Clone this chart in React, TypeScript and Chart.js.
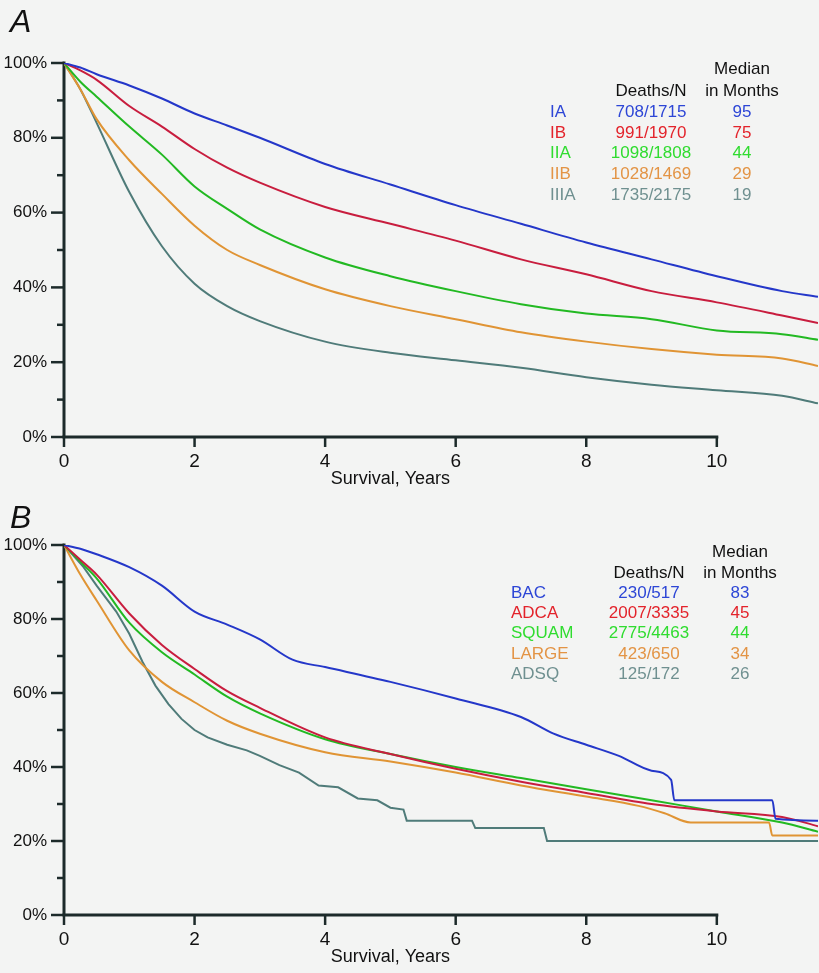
import React, { useEffect, useRef } from 'react';
import { Chart, registerables } from 'chart.js';

Chart.register(...registerables);

// ---------- data ----------
const xTickValues = [0, 2, 4, 6, 8, 10];
const yTickValues = [0, 10, 20, 30, 40, 50, 60, 70, 80, 90, 100];
const xTitle = 'Survival, Years';
const headerDeaths = 'Deaths/N';
const headerMedian1 = 'Median';
const headerMedian2 = 'in Months';

// Panel A: stage
const timesA = [0, 0.25, 0.5, 1, 1.5, 2, 2.5, 3, 4, 5, 6, 7, 8, 9, 10, 11, 11.55];
const survIA = [100, 98.8, 97, 94, 90.5, 86.5, 83.3, 80, 73, 67.5, 62, 57, 52, 47.5, 43, 39, 37.5];
const survIB = [100, 98, 95.5, 88.5, 83, 77, 72, 68, 61.5, 57, 52.5, 47.5, 43.5, 39, 36, 32.5, 30.5];
const survIIA = [100, 95, 91, 83, 75.5, 67, 61, 55.5, 48, 43, 39, 35.5, 33, 31.5, 28.5, 27.5, 26];
const survIIB = [100, 93, 85, 74, 65, 56.5, 50, 46, 39.5, 35, 31.5, 28, 25.5, 23.5, 22, 21, 19];
const survIIIA = [100, 93, 84, 65.5, 51, 41, 35, 31, 25.5, 22.5, 20.5, 18.5, 16, 14, 12.5, 11, 9];
const namesA = ['IA', 'IB', 'IIA', 'IIB', 'IIIA'];
const deathsA = ['708/1715', '991/1970', '1098/1808', '1028/1469', '1735/2175'];
const mediansA = ['95', '75', '44', '29', '19'];

// Panel B: histology
const timesB = [0, 0.25, 0.5, 1, 1.5, 2, 2.5, 3, 4, 5, 6, 7, 8, 9, 10, 11, 11.55];
const survADCA = [100, 96, 92, 81.5, 73, 66.5, 60.5, 56, 48, 43.5, 39.5, 36, 33, 30, 28, 26.5, 24];
const survSQUAM = [100, 95.5, 91, 79, 71, 65, 59, 54.5, 47.5, 43.5, 40, 37, 34, 31, 28, 25, 22.5];
const timesBAC = [0, 0.25, 0.5, 1, 1.5, 2, 2.5, 3, 3.5, 4, 5, 6, 7, 7.5, 8, 8.5, 9, 9.3, 9.35, 10.85, 10.9, 11.55];
const survBAC = [100, 99, 97.5, 94, 89, 82, 78.5, 74.5, 69, 67, 63, 58.5, 53.5, 49, 46, 43, 39, 36.5, 31, 31, 26, 25.5];
const timesLARGE = [0, 0.25, 0.5, 1, 1.5, 2, 2.5, 3, 4, 5, 6, 7, 8, 8.8, 9.2, 9.6, 10.3, 10.8, 10.85, 11.55];
const survLARGE = [100, 92, 85, 71.5, 63, 57.5, 52.5, 49, 44, 41.5, 38.5, 35, 32, 29.5, 27.5, 25, 25, 25, 21.5, 21.5];
const timesADSQ = [0, 0.3, 0.5, 0.8, 1, 1.2, 1.4, 1.6, 1.8, 2, 2.2, 2.5, 2.8, 3, 3.3, 3.6, 3.9, 4.2, 4.5, 4.8, 5.0, 5.2, 5.25, 6.25, 6.3, 7.35, 7.4, 11.55];
const survADSQ = [100, 94, 89, 82, 76, 68.5, 62, 57, 53, 50, 48, 46, 44.5, 43, 40.5, 38.5, 35, 34.5, 31.5, 31, 29, 28.5, 25.5, 25.5, 23.5, 23.5, 20, 20];
const namesB = ['BAC', 'ADCA', 'SQUAM', 'LARGE', 'ADSQ'];
const deathsB = ['230/517', '2007/3335', '2775/4463', '423/650', '125/172'];
const mediansB = ['83', '45', '44', '34', '26'];

// ---------- styles ----------
const curveColors = ['#2437c9', '#c81d3e', '#22b922', '#e09434', '#4f7b79'];
const textColors = ['#2d46d6', '#e3232b', '#2fdc2f', '#e39445', '#6f9090'];
const AXIS_COLOR = '#1c2a2a';
const BG = '#f3f4f3';
const FONT = '"Liberation Sans", Arial, sans-serif';
const NARROW = '"Liberation Sans Narrow", "Arial Narrow", "Liberation Sans", sans-serif';

const pts = (ts: number[], vs: number[]) => ts.map((t, i) => ({ x: t, y: vs[i] }));

type Panel = {
  key: string;
  letter: string;
  height: number;
  top: number;
  padTop: number;
  xAxisH: number;
  letterY: number;
  series: { data: { x: number; y: number }[]; linear?: boolean }[];
  names: string[];
  deaths: string[];
  medians: string[];
  legend: { labelX: number; deathsX: number; medX: number; h1Y: number; h2Y: number; rowY: number; rowGap: number };
};

const panels: Panel[] = [
  {
    key: 'A',
    letter: 'A',
    height: 490,
    top: 0,
    padTop: 63,
    xAxisH: 53,
    letterY: 23,
    series: [
      { data: pts(timesA, survIA) },
      { data: pts(timesA, survIB) },
      { data: pts(timesA, survIIA) },
      { data: pts(timesA, survIIB) },
      { data: pts(timesA, survIIIA) },
    ],
    names: namesA,
    deaths: deathsA,
    medians: mediansA,
    legend: { labelX: 550, deathsX: 651, medX: 742, h1Y: 69, h2Y: 91, rowY: 112.5, rowGap: 20.6 },
  },
  {
    key: 'B',
    letter: 'B',
    height: 483,
    top: 490,
    padTop: 55,
    xAxisH: 58,
    letterY: 29,
    series: [
      { data: pts(timesBAC, survBAC) },
      { data: pts(timesB, survADCA) },
      { data: pts(timesB, survSQUAM) },
      { data: pts(timesLARGE, survLARGE) },
      { data: pts(timesADSQ, survADSQ), linear: true },
    ],
    names: namesB,
    deaths: deathsB,
    medians: mediansB,
    legend: { labelX: 511, deathsX: 649, medX: 740, h1Y: 62, h2Y: 83, rowY: 103, rowGap: 20.4 },
  },
];

function makePlugin(p: Panel) {
  return {
    id: 'decor' + p.key,
    beforeDatasetsDraw(chart: any) {
      const { ctx } = chart;
      const xs = chart.scales.x;
      const ys = chart.scales.y;
      const x0 = xs.getPixelForValue(0);
      const x10 = xs.getPixelForValue(xTickValues[xTickValues.length - 1]);
      const y0 = ys.getPixelForValue(0);
      const y100 = ys.getPixelForValue(100);
      ctx.save();
      ctx.strokeStyle = AXIS_COLOR;
      ctx.lineCap = 'butt';
      ctx.lineWidth = 2.5;
      yTickValues.forEach((v) => {
        const y = ys.getPixelForValue(v);
        const len = v % 20 === 0 ? 13 : 7;
        ctx.beginPath();
        ctx.moveTo(x0 - len, y);
        ctx.lineTo(x0, y);
        ctx.stroke();
      });
      xTickValues.forEach((v) => {
        const x = xs.getPixelForValue(v);
        ctx.beginPath();
        ctx.moveTo(x, y0);
        ctx.lineTo(x, y0 + 10);
        ctx.stroke();
      });
      ctx.lineWidth = 3;
      ctx.beginPath();
      ctx.moveTo(x0, y100 - 1.5);
      ctx.lineTo(x0, y0);
      ctx.stroke();
      ctx.beginPath();
      ctx.moveTo(x0 - 1.5, y0);
      ctx.lineTo(x10 + 1.5, y0);
      ctx.stroke();
      ctx.restore();
    },
    afterDraw(chart: any) {
      const { ctx } = chart;
      const xs = chart.scales.x;
      const ys = chart.scales.y;
      const x0 = xs.getPixelForValue(0);
      const x10 = xs.getPixelForValue(xTickValues[xTickValues.length - 1]);
      const y0 = ys.getPixelForValue(0);
      ctx.save();
      ctx.fillStyle = '#111';
      ctx.font = `18px ${NARROW}`;
      ctx.textAlign = 'center';
      ctx.textBaseline = 'middle';
      ctx.fillText(xTitle, (x0 + x10) / 2, y0 + 42);
      ctx.font = `italic 32px ${FONT}`;
      ctx.textAlign = 'left';
      ctx.fillText(p.letter, 10, p.letterY);
      const L = p.legend;
      ctx.font = `17px ${FONT}`;
      ctx.fillStyle = '#111';
      ctx.textAlign = 'center';
      ctx.fillText(headerMedian1, L.medX, L.h1Y);
      ctx.fillText(headerDeaths, L.deathsX, L.h2Y);
      ctx.fillText(headerMedian2, L.medX, L.h2Y);
      p.names.forEach((n, i) => {
        const y = L.rowY + i * L.rowGap;
        ctx.fillStyle = textColors[i];
        ctx.textAlign = 'left';
        ctx.fillText(n, L.labelX, y);
        ctx.textAlign = 'center';
        ctx.fillText(p.deaths[i], L.deathsX, y);
        ctx.fillText(p.medians[i], L.medX, y);
      });
      ctx.restore();
    },
  };
}

function PanelChart({ p }: { p: Panel }) {
  const ref = useRef<HTMLCanvasElement | null>(null);
  useEffect(() => {
    if (!ref.current) return;
    const chart = new Chart(ref.current, {
      type: 'line',
      data: {
        datasets: p.series.map((s, i) => ({
          label: p.names[i],
          data: s.data,
          borderColor: curveColors[i],
          backgroundColor: curveColors[i],
          borderWidth: 2,
          pointRadius: 0,
          fill: false,
          tension: 0,
          cubicInterpolationMode: s.linear ? 'default' : 'monotone',
        })) as any,
      },
      options: {
        animation: false,
        responsive: false,
        maintainAspectRatio: false,
        devicePixelRatio: 1,
        layout: { padding: { top: p.padTop, right: 1, left: 0, bottom: 0 } },
        plugins: { legend: { display: false }, tooltip: { enabled: false }, title: { display: false } },
        scales: {
          x: {
            type: 'linear',
            min: 0,
            max: 11.55,
            border: { display: false },
            grid: { display: false, drawTicks: false },
            afterBuildTicks: (s: any) => {
              s.ticks = xTickValues.map((v) => ({ value: v }));
            },
            afterFit: (s: any) => {
              s.height = p.xAxisH;
            },
            ticks: {
              autoSkip: false,
              maxRotation: 0,
              padding: 13,
              color: '#111',
              font: { family: NARROW, size: 19 },
              callback: (v: any) => String(v),
            },
          },
          y: {
            type: 'linear',
            min: 0,
            max: 100,
            border: { display: false },
            grid: { display: false, drawTicks: false },
            afterBuildTicks: (s: any) => {
              s.ticks = yTickValues.map((v) => ({ value: v }));
            },
            afterFit: (s: any) => {
              s.width = 64;
            },
            ticks: {
              autoSkip: false,
              padding: 17,
              color: '#111',
              font: { family: FONT, size: 17 },
              callback: (v: any) => (Number(v) % 20 === 0 ? `${v}%` : ''),
            },
          },
        },
      } as any,
      plugins: [makePlugin(p)],
    });
    return () => chart.destroy();
  }, [p]);
  return (
    <canvas
      ref={ref}
      width={819}
      height={p.height}
      style={{ position: 'absolute', left: 0, top: p.top, width: 819, height: p.height }}
    />
  );
}

export default function App() {
  return (
    <div style={{ position: 'fixed', left: 0, top: 0, width: 819, height: 973, background: BG, overflow: 'hidden' }}>
      {panels.map((p) => (
        <PanelChart key={p.key} p={p} />
      ))}
    </div>
  );
}
